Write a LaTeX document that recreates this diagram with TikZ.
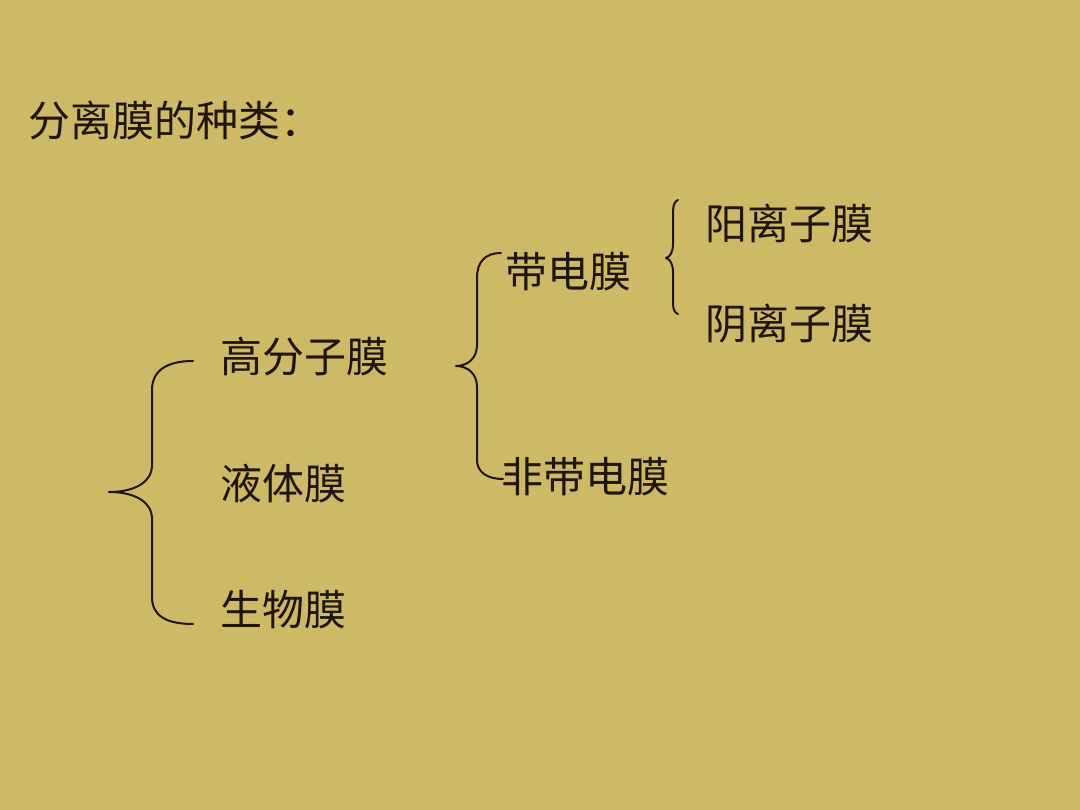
\documentclass[tikz,border=0pt]{standalone}
\usepackage{fontspec}
\newfontfamily\cjk{Noto Sans CJK SC}
\definecolor{bgc}{RGB}{206,186,102}
\definecolor{ink}{RGB}{30,22,10}
\begin{document}
\begin{tikzpicture}[x=1pt,y=-1pt,
  lbl/.style={anchor=base west,inner sep=0pt,text=ink,font=\cjk\fontsize{42}{42}\selectfont},
  brace/.style={draw=ink,line width=2pt,line cap=round,line join=round}]
\useasboundingbox (0,0) rectangle (1080,810);
\fill[bgc] (0,0) rectangle (1080,810);
\node[lbl] (title) at (28,137) {分离膜的种类：};
\node[lbl] (gfz) at (220,373) {高分子膜};
\node[lbl] (yt) at (220,500) {液体膜};
\node[lbl] (sw) at (220,625) {生物膜};
\node[lbl] (dd) at (505,288) {带电膜};
\node[lbl] (fdd) at (501,493) {非带电膜};
\node[lbl] (yang) at (705,240) {阳离子膜};
\node[lbl] (yin) at (705,340) {阴离子膜};
% big brace
\draw[brace] (193,361) .. controls (165,361) and (152,372) .. (152,390) -- (152,465)
  .. controls (152,482) and (135,492) .. (109,492)
  .. controls (135,492) and (152,502) .. (152,519) -- (152,597)
  .. controls (152,615) and (165,624) .. (193,624);
% second brace
\draw[brace] (501,253) .. controls (485,253) and (477,262) .. (477,278) -- (477,345)
  .. controls (477,358) and (468,366) .. (456,366)
  .. controls (468,366) and (477,374) .. (477,387) -- (477,460)
  .. controls (477,472) and (487,479) .. (503,479);
% third brace
\draw[brace] (678,200) .. controls (675,201) and (673,205) .. (673,212) -- (673,244)
  .. controls (673,252) and (670,257) .. (666,258)
  .. controls (670,259) and (673,264) .. (673,272) -- (673,303)
  .. controls (673,310) and (675,313) .. (678,314);
\end{tikzpicture}
\end{document}
